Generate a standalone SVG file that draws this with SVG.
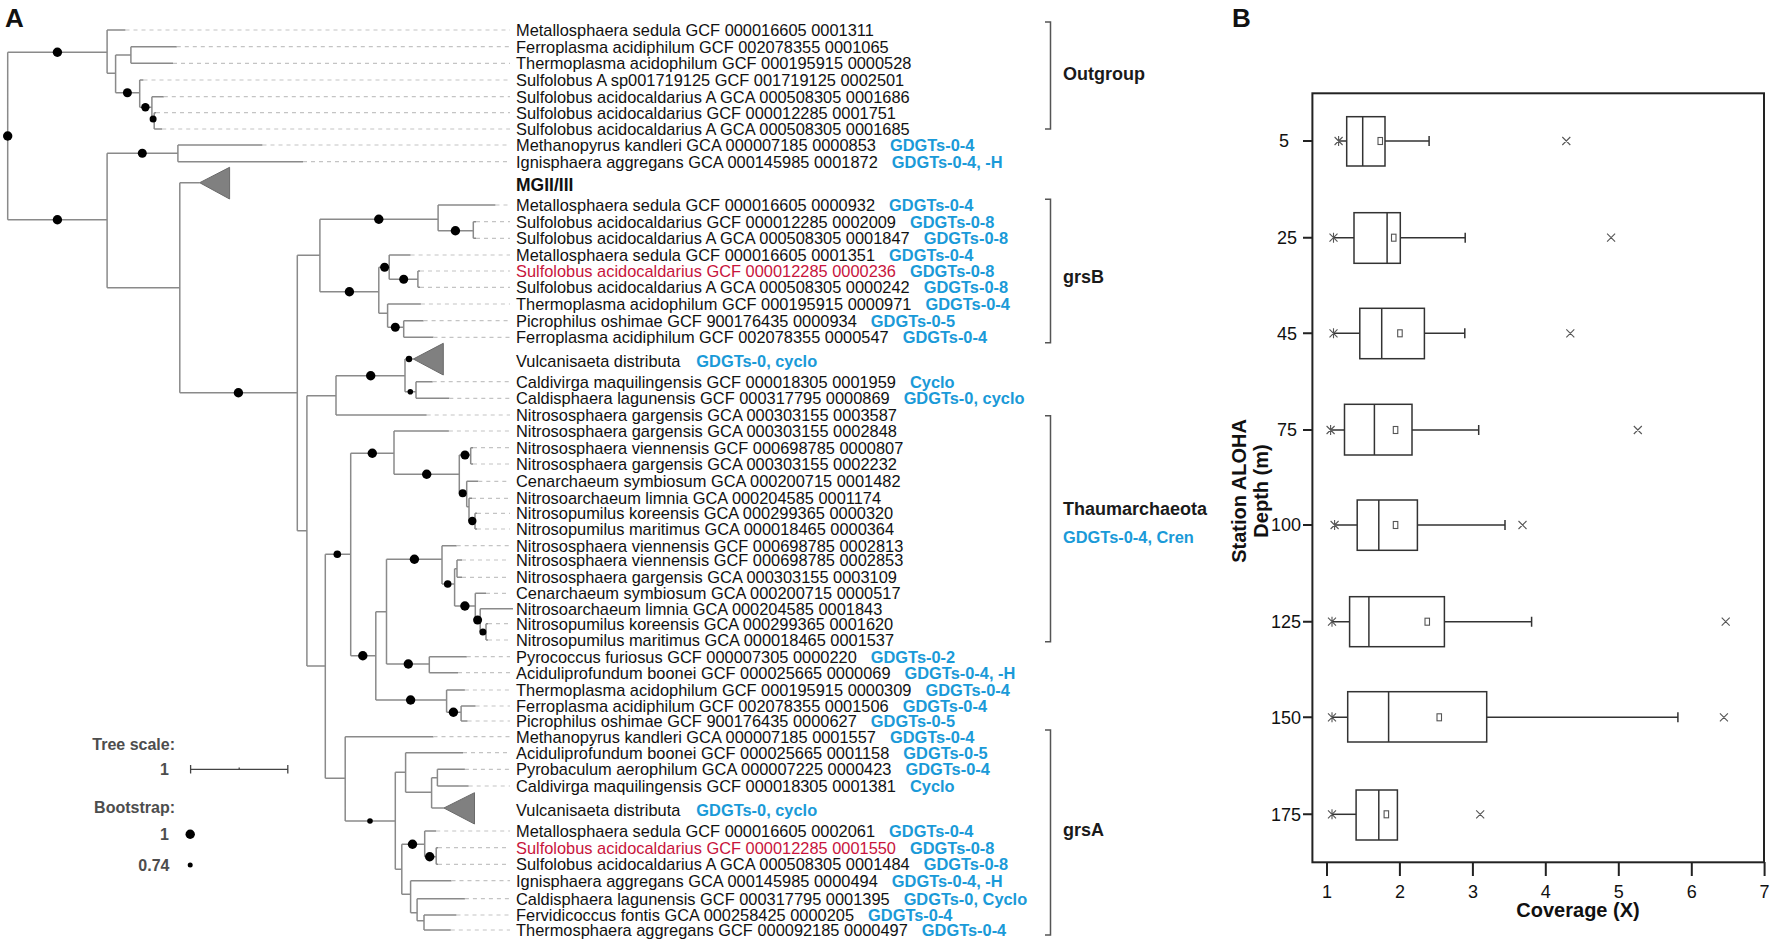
<svg xmlns="http://www.w3.org/2000/svg" width="1772" height="948" viewBox="0 0 1772 948">
<defs>
<style>
.br{fill:none;stroke:#8a8a8a;stroke-width:1.5}
.ld{fill:none;stroke:#c4c4c4;stroke-width:1.2;stroke-dasharray:4 4}
.tri{fill:#808080;stroke:#6a6a6a;stroke-width:1}
.dot{fill:#000}
.lf{font-family:"Liberation Sans",Arial,sans-serif;font-size:16.4px;fill:#111}
.gd{font-weight:bold;fill:#1a9ad8}
.red{fill:#c8143c}
.grp{font-family:"Liberation Sans",Arial,sans-serif;font-size:18px;font-weight:bold;fill:#1a1a1a}
.grpb{font-family:"Liberation Sans",Arial,sans-serif;font-size:16.4px;font-weight:bold;fill:#1a9ad8}
.brk{fill:none;stroke:#555;stroke-width:1.5}
.lg{font-family:"Liberation Sans",Arial,sans-serif;font-size:16px;font-weight:bold;fill:#4d4d4d}
.pl{font-family:"Liberation Sans",Arial,sans-serif;font-size:26px;font-weight:bold;fill:#111}
.ax{fill:none;stroke:#222;stroke-width:2}
.box{fill:#fff;stroke:#333;stroke-width:1.5}
.wh{fill:none;stroke:#333;stroke-width:1.5}
.mk{fill:none;stroke:#555;stroke-width:1.1}
.tk{font-family:"Liberation Sans",Arial,sans-serif;font-size:18px;fill:#111}
.at{font-family:"Liberation Sans",Arial,sans-serif;font-size:20px;font-weight:bold;fill:#111}
</style>
</defs>
<rect width="1772" height="948" fill="#fff"/>

<g id="panel-A">
<text class="pl" x="5" y="27">A</text>

<g id="connectors">
<path class="br" d="M7.7 52.3V219.7M7.7 52.3H107.1M107.1 30V73.3M107.1 30H125.5M107.1 73.3H115.6M115.6 55V92.7M115.6 55H130.9M130.9 46.7V63.3M130.9 46.7H176.8M130.9 63.3H173M115.6 92.7H139.7M139.7 80V107.3M139.7 80H143.5M139.7 107.3H151.9M151.9 96.7V119M151.9 96.7H163.8M151.9 119H154.2M154.2 112.7V129M154.2 112.7H156M154.2 129H162.2"/>
<path class="br" d="M7.7 219.7H107.1M107.1 153.3V287.7M107.1 153.3H177.9M177.9 145V161.7M177.9 145H262.5M177.9 161.7H303M107.1 287.7H179.8M179.8 182.7V392.7M179.8 182.7H199.7M179.8 392.7H297.3"/>
<path class="br" d="M297.3 255.3V530.7M297.3 255.3H319.9M319.9 219.3V291.7M319.9 219.3H438.1M438.1 205V230.7M438.1 205H495.5M438.1 230.7H473.3M473.3 221.7V238.3M473.3 221.7H476M473.3 238.3H476M319.9 291.7H378.8M378.8 267.3V313.3M378.8 267.3H389.2M389.2 255V279.3M389.2 255H410.6M389.2 279.3H417.9M417.9 271V287.3M417.9 271H420M417.9 287.3H420M378.8 313.3H387.6M387.6 304V327.3M387.6 304H420.9M387.6 327.3H403.7M403.7 320.7V337.3M403.7 320.7H423.6M403.7 337.3H433.5"/>
<path class="br" d="M297.3 530.7H306.9M306.9 395.7V666M306.9 395.7H336M336 375.7V415M336 375.7H405M405 359V391.7M405 359H413.3M405 391.7H416M416 381.7V398.3M416 381.7H432.7M416 398.3H449.3M336 415H426.7"/>
<path class="br" d="M306.9 666H325.3M325.3 554.3V778.3M325.3 554.3H350.7M350.7 453.3V655.7M350.7 453.3H394M394 431V474.3M394 431H448.9M394 474.3H459.3M459.3 455V493.3M459.3 455H470.7M470.7 447.7V464M470.7 447.7H473M470.7 464H473M459.3 493.3H466.7M466.7 481.3V506.7M466.7 481.3H478.3M466.7 506.7H469M469 498.3V521M469 498.3H472M469 521H475M475 513.3V529M475 513.3H477M475 529H477"/>
<path class="br" d="M350.7 655.7H375.8M375.8 611.7V700M375.8 611.7H386.5M386.5 559.3V664M386.5 559.3H442M442 545.7V584M442 545.7H456.7M442 584H454.6M454.6 568.7V606M454.6 568.7H457M457 560V577.3M457 560H462M457 577.3H462M454.6 606H475.3M475.3 593.3V620M475.3 593.3H486M475.3 620H480.2M480.2 608.7V632M480.2 608.7H513M480.2 632H486M486 623.7V640M486 623.7H488M486 640H488M386.5 664H429.3M429.3 656.7V672.7M429.3 656.7H466.8M429.3 672.7H458M375.8 700H446.6M446.6 690V712.3M446.6 690H464.9M446.6 712.3H461.1M461.1 706V721M461.1 706H475.6M461.1 721H467.6"/>
<path class="br" d="M325.3 778.3H345.2M345.2 736.7V821M345.2 736.7H433.5M345.2 821H395.3M395.3 772.3V869.3M395.3 772.3H405.6M405.6 752.7V792.3M405.6 752.7H463M405.6 792.3H431.6M431.6 777.7V808M431.6 777.7H437.4M437.4 769.3V786M437.4 769.3H464.9M437.4 786H468.7M431.6 808H443.9M395.3 869.3H401.8M401.8 844.3V894.3M401.8 844.3H424.7M424.7 831V856.7M424.7 831H436.2M424.7 856.7H436.2M436.2 847.7V864.3M436.2 847.7H438M436.2 864.3H438M401.8 894.3H410.6M410.6 880.7V912.7M410.6 880.7H451.5M410.6 912.7H417.1M417.1 898.7V920.7M417.1 898.7H464.9M417.1 920.7H424M424 915V930M424 915H456.5M424 930H450.8"/>
<path class="ld" d="M125.5 30H510M176.8 46.7H510M173 63.3H510M143.5 80H510M163.8 96.7H510M156 112.7H510M162.2 129H510M262.5 145H510M303 161.7H510M495.5 205H510M476 221.7H510M476 238.3H510M410.6 255H510M420 271H510M420 287.3H510M420.9 304H510M423.6 320.7H510M433.5 337.3H510M432.7 381.7H510M449.3 398.3H510M426.7 415H510M448.9 431H510M473 447.7H510M473 464H510M478.3 481.3H510M472 498.3H510M477 513.3H510M477 529H510M456.7 545.7H510M462 560H510M462 577.3H510M486 593.3H510M488 623.7H510M488 640H510M466.8 656.7H510M458 672.7H510M464.9 690H510M475.6 706H510M467.6 721H510M433.5 736.7H510M463 752.7H510M464.9 769.3H510M468.7 786H510M436.2 831H510M438 847.7H510M438 864.3H510M451.5 880.7H510M464.9 898.7H510M456.5 915H510M450.8 930H510"/>
</g>

<g id="collapsed-clades">
<polygon id="clade-MGII-III" class="tri" points="199.7,182.7 229.6,167.3 229.6,199"/>
<polygon id="clade-Vulcanisaeta-grsB" class="tri" points="413.3,359 443.3,343.3 443.3,375"/>
<polygon id="clade-Vulcanisaeta-grsA" class="tri" points="443.9,808 474.5,792.7 474.5,824"/>
</g>

<g id="bootstrap-dots" class="dot">
<circle cx="7.7" cy="136" r="4.7"/><circle cx="57.4" cy="52.3" r="4.7"/><circle cx="57.4" cy="219.7" r="4.7"/>
<circle cx="127.4" cy="92.7" r="4.5"/><circle cx="145.4" cy="107.3" r="4.2"/><circle cx="153.1" cy="119" r="3.5"/>
<circle cx="142.3" cy="153.3" r="4.5"/><circle cx="238.4" cy="392.7" r="4.7"/>
<circle cx="378.8" cy="219.3" r="4.7"/><circle cx="455.4" cy="230.7" r="4.7"/><circle cx="349.4" cy="291.7" r="4.7"/>
<circle cx="384.6" cy="267.3" r="4.5"/><circle cx="403.7" cy="279.3" r="4.5"/><circle cx="395.3" cy="327.3" r="4.5"/>
<circle cx="370.7" cy="375.7" r="4.7"/><circle cx="409" cy="359" r="3.2"/><circle cx="410.3" cy="391.7" r="2.8"/>
<circle cx="337.3" cy="554.3" r="3.8"/><circle cx="372.3" cy="453.3" r="4.7"/><circle cx="426.7" cy="474.3" r="4.7"/>
<circle cx="465" cy="455" r="4.5"/><circle cx="462.7" cy="493.3" r="4"/><circle cx="472.3" cy="521" r="4.2"/>
<circle cx="362.8" cy="655.7" r="4.7"/><circle cx="414.4" cy="559.3" r="4.7"/><circle cx="447.7" cy="584" r="3.8"/>
<circle cx="464.9" cy="606" r="4.7"/><circle cx="477.6" cy="620" r="4.5"/><circle cx="482.9" cy="632" r="3.5"/>
<circle cx="408.3" cy="664" r="4.7"/><circle cx="410.6" cy="700" r="4.7"/><circle cx="453.4" cy="712.3" r="4.7"/>
<circle cx="370" cy="821" r="2.8"/><circle cx="412.5" cy="844.3" r="4.7"/><circle cx="429.7" cy="856.7" r="4.7"/>
</g>

<g id="leaf-labels" class="lf">
<text id="l1" x="516" y="36">Metallosphaera sedula GCF 000016605 0001311</text>
<text id="l2" x="516" y="52.7">Ferroplasma acidiphilum GCF 002078355 0001065</text>
<text id="l3" x="516" y="69.3">Thermoplasma acidophilum GCF 000195915 0000528</text>
<text id="l4" x="516" y="86">Sulfolobus A sp001719125 GCF 001719125 0002501</text>
<text id="l5" x="516" y="102.7">Sulfolobus acidocaldarius A GCA 000508305 0001686</text>
<text id="l6" x="516" y="118.7">Sulfolobus acidocaldarius GCF 000012285 0001751</text>
<text id="l7" x="516" y="135">Sulfolobus acidocaldarius A GCA 000508305 0001685</text>
<text id="l8" x="516" y="151">Methanopyrus kandleri GCA 000007185 0000853<tspan class="gd" dx="14">GDGTs-0-4</tspan></text>
<text id="l9" x="516" y="167.7">Ignisphaera aggregans GCA 000145985 0001872<tspan class="gd" dx="14">GDGTs-0-4, -H</tspan></text>
<text id="mgii" x="516" y="191" style="font-weight:bold;font-size:17.5px">MGII/III</text>
<text id="l10" x="516" y="211">Metallosphaera sedula GCF 000016605 0000932<tspan class="gd" dx="14">GDGTs-0-4</tspan></text>
<text id="l11" x="516" y="227.7">Sulfolobus acidocaldarius GCF 000012285 0002009<tspan class="gd" dx="14">GDGTs-0-8</tspan></text>
<text id="l12" x="516" y="244.3">Sulfolobus acidocaldarius A GCA 000508305 0001847<tspan class="gd" dx="14">GDGTs-0-8</tspan></text>
<text id="l13" x="516" y="261">Metallosphaera sedula GCF 000016605 0001351<tspan class="gd" dx="14">GDGTs-0-4</tspan></text>
<text id="l14" x="516" y="277"><tspan class="red">Sulfolobus acidocaldarius GCF 000012285 0000236</tspan><tspan class="gd" dx="14">GDGTs-0-8</tspan></text>
<text id="l15" x="516" y="293.3">Sulfolobus acidocaldarius A GCA 000508305 0000242<tspan class="gd" dx="14">GDGTs-0-8</tspan></text>
<text id="l16" x="516" y="310">Thermoplasma acidophilum GCF 000195915 0000971<tspan class="gd" dx="14">GDGTs-0-4</tspan></text>
<text id="l17" x="516" y="326.7">Picrophilus oshimae GCF 900176435 0000934<tspan class="gd" dx="14">GDGTs-0-5</tspan></text>
<text id="l18" x="516" y="343.3">Ferroplasma acidiphilum GCF 002078355 0000547<tspan class="gd" dx="14">GDGTs-0-4</tspan></text>
<text id="v1" x="516" y="366.7">Vulcanisaeta distributa<tspan class="gd" dx="16">GDGTs-0, cyclo</tspan></text>
<text id="l19" x="516" y="387.7">Caldivirga maquilingensis GCF 000018305 0001959<tspan class="gd" dx="14">Cyclo</tspan></text>
<text id="l20" x="516" y="404.3">Caldisphaera lagunensis GCF 000317795 0000869<tspan class="gd" dx="14">GDGTs-0, cyclo</tspan></text>
<text id="l21" x="516" y="421">Nitrososphaera gargensis GCA 000303155 0003587</text>
<text id="l22" x="516" y="437">Nitrososphaera gargensis GCA 000303155 0002848</text>
<text id="l23" x="516" y="453.7">Nitrososphaera viennensis GCF 000698785 0000807</text>
<text id="l24" x="516" y="470">Nitrososphaera gargensis GCA 000303155 0002232</text>
<text id="l25" x="516" y="487.3">Cenarchaeum symbiosum GCA 000200715 0001482</text>
<text id="l26" x="516" y="504.3">Nitrosoarchaeum limnia GCA 000204585 0001174</text>
<text id="l27" x="516" y="519.3">Nitrosopumilus koreensis GCA 000299365 0000320</text>
<text id="l28" x="516" y="535">Nitrosopumilus maritimus GCA 000018465 0000364</text>
<text id="l29" x="516" y="551.7">Nitrososphaera viennensis GCF 000698785 0002813</text>
<text id="l30" x="516" y="566">Nitrososphaera viennensis GCF 000698785 0002853</text>
<text id="l31" x="516" y="583.3">Nitrososphaera gargensis GCA 000303155 0003109</text>
<text id="l32" x="516" y="599.3">Cenarchaeum symbiosum GCA 000200715 0000517</text>
<text id="l33" x="516" y="614.7">Nitrosoarchaeum limnia GCA 000204585 0001843</text>
<text id="l34" x="516" y="629.7">Nitrosopumilus koreensis GCA 000299365 0001620</text>
<text id="l35" x="516" y="646">Nitrosopumilus maritimus GCA 000018465 0001537</text>
<text id="l36" x="516" y="662.7">Pyrococcus furiosus GCF 000007305 0000220<tspan class="gd" dx="14">GDGTs-0-2</tspan></text>
<text id="l37" x="516" y="678.7">Aciduliprofundum boonei GCF 000025665 0000069<tspan class="gd" dx="14">GDGTs-0-4, -H</tspan></text>
<text id="l38" x="516" y="696">Thermoplasma acidophilum GCF 000195915 0000309<tspan class="gd" dx="14">GDGTs-0-4</tspan></text>
<text id="l39" x="516" y="712">Ferroplasma acidiphilum GCF 002078355 0001506<tspan class="gd" dx="14">GDGTs-0-4</tspan></text>
<text id="l40" x="516" y="727">Picrophilus oshimae GCF 900176435 0000627<tspan class="gd" dx="14">GDGTs-0-5</tspan></text>
<text id="l41" x="516" y="742.7">Methanopyrus kandleri GCA 000007185 0001557<tspan class="gd" dx="14">GDGTs-0-4</tspan></text>
<text id="l42" x="516" y="758.7">Aciduliprofundum boonei GCF 000025665 0001158<tspan class="gd" dx="14">GDGTs-0-5</tspan></text>
<text id="l43" x="516" y="775.3">Pyrobaculum aerophilum GCA 000007225 0000423<tspan class="gd" dx="14">GDGTs-0-4</tspan></text>
<text id="l44" x="516" y="792">Caldivirga maquilingensis GCF 000018305 0001381<tspan class="gd" dx="14">Cyclo</tspan></text>
<text id="v2" x="516" y="816">Vulcanisaeta distributa<tspan class="gd" dx="16">GDGTs-0, cyclo</tspan></text>
<text id="l45" x="516" y="837">Metallosphaera sedula GCF 000016605 0002061<tspan class="gd" dx="14">GDGTs-0-4</tspan></text>
<text id="l46" x="516" y="853.7"><tspan class="red">Sulfolobus acidocaldarius GCF 000012285 0001550</tspan><tspan class="gd" dx="14">GDGTs-0-8</tspan></text>
<text id="l47" x="516" y="870.3">Sulfolobus acidocaldarius A GCA 000508305 0001484<tspan class="gd" dx="14">GDGTs-0-8</tspan></text>
<text id="l48" x="516" y="886.7">Ignisphaera aggregans GCA 000145985 0000494<tspan class="gd" dx="14">GDGTs-0-4, -H</tspan></text>
<text id="l49" x="516" y="904.7">Caldisphaera lagunensis GCF 000317795 0001395<tspan class="gd" dx="14">GDGTs-0, Cyclo</tspan></text>
<text id="l50" x="516" y="921">Fervidicoccus fontis GCA 000258425 0000205<tspan class="gd" dx="14">GDGTs-0-4</tspan></text>
<text id="l51" x="516" y="936">Thermosphaera aggregans GCF 000092185 0000497<tspan class="gd" dx="14">GDGTs-0-4</tspan></text>
</g>

<g id="group-outgroup">
<path class="brk" d="M1045 22H1050.5V129H1045"/>
<text class="grp" x="1063" y="79.5">Outgroup</text>
</g>
<g id="group-grsB">
<path class="brk" d="M1045 199.3H1050.5V342.7H1045"/>
<text class="grp" x="1063" y="283">grsB</text>
</g>
<g id="group-thaumarchaeota">
<path class="brk" d="M1045 415.7H1050.5V641.7H1045"/>
<text class="grp" x="1063" y="515">Thaumarchaeota</text>
<text class="grpb" x="1063" y="542.5">GDGTs-0-4, Cren</text>
</g>
<g id="group-grsA">
<path class="brk" d="M1045 730H1050.5V935H1045"/>
<text class="grp" x="1063" y="835.5">grsA</text>
</g>

<g id="legend">
<text class="lg" x="175" y="750" text-anchor="end">Tree scale:</text>
<text class="lg" x="169" y="775" text-anchor="end">1</text>
<path d="M190.6 769.3H287.8M190.6 765V773.6M287.8 765V773.6M239.2 767.5V769.3" fill="none" stroke="#444" stroke-width="1.3"/>
<text class="lg" x="175" y="812.5" text-anchor="end">Bootstrap:</text>
<text class="lg" x="169" y="840" text-anchor="end">1</text>
<circle cx="190.2" cy="834.3" r="4.7" fill="#000"/>
<text class="lg" x="169.5" y="871" text-anchor="end">0.74</text>
<circle cx="190.2" cy="865" r="2.5" fill="#000"/>
</g>
</g>

<g id="panel-B">
<text class="pl" x="1232" y="27">B</text>
<g id="axes">
<rect class="ax" x="1312.4" y="93.3" width="451.6" height="769"/>
<path class="ax" d="M1327 862V876M1399.9 862V876M1472.9 862V876M1545.8 862V876M1618.8 862V876M1691.8 862V876M1764.6 862V876M1303 141H1312.4M1303 237.7H1312.4M1303 333.3H1312.4M1303 430H1312.4M1303 525H1312.4M1303 621.7H1312.4M1303 717.3H1312.4M1303 814.3H1312.4"/>
<g class="tk" text-anchor="middle">
<text x="1327" y="898">1</text><text x="1399.9" y="898">2</text><text x="1472.9" y="898">3</text><text x="1545.8" y="898">4</text><text x="1618.8" y="898">5</text><text x="1691.8" y="898">6</text><text x="1764.6" y="898">7</text>
</g>
<g class="tk" text-anchor="end">
<text x="1289" y="147.4">5</text><text x="1297" y="244.1">25</text><text x="1297" y="339.7">45</text><text x="1297" y="436.4">75</text><text x="1301" y="531.4">100</text><text x="1301" y="628.1">125</text><text x="1301" y="723.7">150</text><text x="1301" y="820.7">175</text>
</g>
<text class="at" x="1578" y="917" text-anchor="middle">Coverage (X)</text>
<text class="at" transform="translate(1246,491) rotate(-90)" text-anchor="middle">Station ALOHA</text>
<text class="at" transform="translate(1268,491) rotate(-90)" text-anchor="middle">Depth (m)</text>
</g>

<g id="box-5">
<path class="wh" d="M1338.6 141H1346.7M1385 141H1429.1M1429.1 136V146"/>
<rect class="box" x="1346.7" y="116.7" width="38.3" height="49.3"/>
<path class="wh" d="M1362.7 116.7V166"/>
<rect class="mk" x="1378" y="137.5" width="4.5" height="7"/>
<path class="mk" d="M1334.6 137L1342.6 145M1334.6 145L1342.6 137M1338.6 136V146M1562.3 137L1570.3 145M1570.3 137L1562.3 145"/>
</g>
<g id="box-25">
<path class="wh" d="M1333.5 237.7H1354M1400.3 237.7H1465.2M1465.2 232.7V242.7"/>
<rect class="box" x="1354" y="212.7" width="46.3" height="50.6"/>
<path class="wh" d="M1387.1 212.7V263.3"/>
<rect class="mk" x="1391.5" y="234.2" width="4.5" height="7"/>
<path class="mk" d="M1329.5 233.7L1337.5 241.7M1329.5 241.7L1337.5 233.7M1333.5 232.7V242.7M1607.1 233.7L1615.1 241.7M1615.1 233.7L1607.1 241.7"/>
</g>
<g id="box-45">
<path class="wh" d="M1333.5 333.3H1359.8M1424.4 333.3H1464.8M1464.8 328.3V338.3"/>
<rect class="box" x="1359.8" y="308.3" width="64.6" height="50.4"/>
<path class="wh" d="M1381.7 308.3V358.7"/>
<rect class="mk" x="1397.7" y="329.8" width="4.5" height="7"/>
<path class="mk" d="M1329.5 329.3L1337.5 337.3M1329.5 337.3L1337.5 329.3M1333.5 328.3V338.3M1566.3 329.3L1574.3 337.3M1574.3 329.3L1566.3 337.3"/>
</g>
<g id="box-75">
<path class="wh" d="M1330.6 430H1344.5M1412 430H1478.7M1478.7 425V435"/>
<rect class="box" x="1344.5" y="404.3" width="67.5" height="50.7"/>
<path class="wh" d="M1374.4 404.3V455"/>
<rect class="mk" x="1393.3" y="426.5" width="4.5" height="7"/>
<path class="mk" d="M1326.6 426L1334.6 434M1326.6 434L1334.6 426M1330.6 425V435M1633.8 426L1641.8 434M1641.8 426L1633.8 434"/>
</g>
<g id="box-100">
<path class="wh" d="M1334.6 525H1357.2M1417.4 525H1505M1505 520V530"/>
<rect class="box" x="1357.2" y="500" width="60.2" height="50.3"/>
<path class="wh" d="M1378.8 500V550.3"/>
<rect class="mk" x="1393.3" y="521.5" width="4.5" height="7"/>
<path class="mk" d="M1330.6 521L1338.6 529M1330.6 529L1338.6 521M1334.6 520V530M1518.5 521L1526.5 529M1526.5 521L1518.5 529"/>
</g>
<g id="box-125">
<path class="wh" d="M1332 621.7H1349.6M1444.4 621.7H1531.6M1531.6 616.7V626.7"/>
<rect class="box" x="1349.6" y="596.7" width="94.8" height="50"/>
<path class="wh" d="M1368.9 596.7V646.7"/>
<rect class="mk" x="1425" y="618.2" width="4.5" height="7"/>
<path class="mk" d="M1328 617.7L1336 625.7M1328 625.7L1336 617.7M1332 616.7V626.7M1721.7 617.7L1729.7 625.7M1729.7 617.7L1721.7 625.7"/>
</g>
<g id="box-150">
<path class="wh" d="M1332 717.3H1347.7M1486.7 717.3H1677.9M1677.9 712.3V722.3"/>
<rect class="box" x="1347.7" y="691.7" width="139" height="50.3"/>
<path class="wh" d="M1388.6 691.7V742"/>
<rect class="mk" x="1437" y="713.8" width="4.5" height="7"/>
<path class="mk" d="M1328 713.3L1336 721.3M1328 721.3L1336 713.3M1332 712.3V722.3M1719.9 713.3L1727.9 721.3M1727.9 713.3L1719.9 721.3"/>
</g>
<g id="box-175">
<path class="wh" d="M1332 814.3H1356.1"/>
<rect class="box" x="1356.1" y="790" width="41.3" height="50"/>
<path class="wh" d="M1378.8 790V840"/>
<rect class="mk" x="1384.1" y="810.8" width="4.5" height="7"/>
<path class="mk" d="M1328 810.3L1336 818.3M1328 818.3L1336 810.3M1332 809.3V819.3M1476.2 810.3L1484.2 818.3M1484.2 810.3L1476.2 818.3"/>
</g>
</g>
</svg>
